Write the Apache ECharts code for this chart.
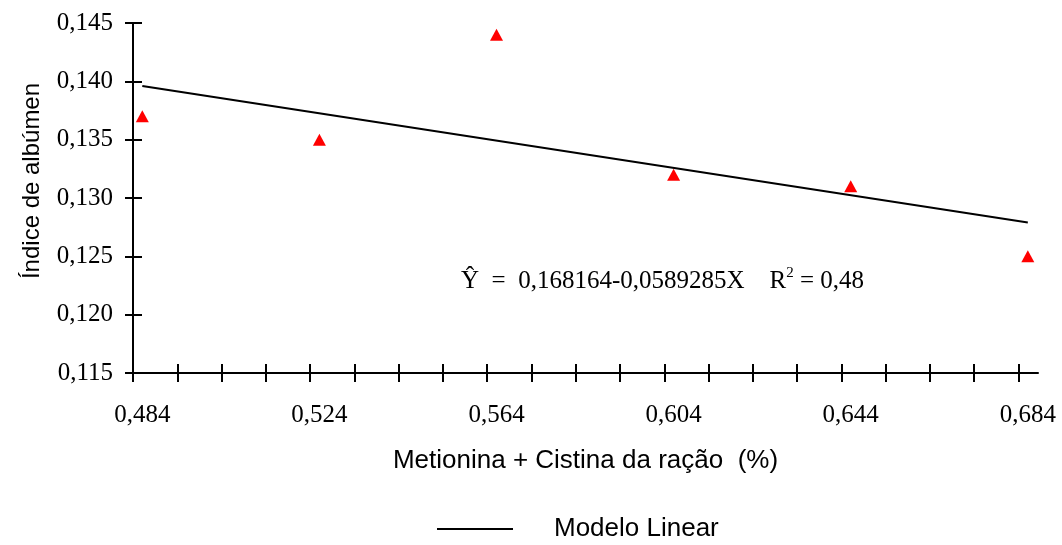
<!DOCTYPE html>
<html>
<head>
<meta charset="utf-8">
<script src="https://cdn.jsdelivr.net/npm/echarts@6/dist/echarts.min.js"></script>
<style>
  html, body { margin: 0; padding: 0; background: #fff; }
  #chart { width: 1062px; height: 545px; }
</style>
</head>
<body>
<div id="chart"></div>
<script>
// Observed values: methionine + cystine level vs. albumen index
const xLevels = [0.484, 0.524, 0.564, 0.604, 0.644, 0.684];
const albumenIndex = [0.137, 0.135, 0.144, 0.132, 0.131, 0.125];

// Fitted linear model, endpoints over the tested range
const modelX = [0.484, 0.684];
const modelY = [0.1396, 0.1279];

// Axis ranges and tick labels
const xRange = [0.4819, 0.6863];
const xTickStep = 0.01;
const xTickCount = 21;
const xLabelValues = [0.484, 0.524, 0.564, 0.604, 0.644, 0.684];
const yRange = [0.115, 0.145];
const yStep = 0.005;

const equationText = 'Ŷ  =  0,168164-0,0589285X';
const r2Text = '0,48';

const SERIF = '"Liberation Serif", "Times New Roman", serif';
const SANS = '"Liberation Sans", Arial, sans-serif';

const xTicks = [];
for (let k = 0; k < xTickCount; k++) xTicks.push(+(xRange[0] + k * xTickStep).toFixed(5));

const comma = (v) => v.toFixed(3).replace('.', ',');

const chart = echarts.init(document.getElementById('chart'));

const axisLine = { show: true, lineStyle: { color: '#000', width: 2 } };
const tickStyle = { color: '#000', width: 2 };

chart.setOption({
  backgroundColor: '#fff',
  animation: false,
  grid: { left: 133, right: 24, top: 23, bottom: 172, containLabel: false },
  xAxis: [
    {
      type: 'value',
      min: xRange[0],
      max: xRange[1],
      axisLine: axisLine,
      axisTick: { show: true, customValues: xTicks, length: 9, inside: false, lineStyle: tickStyle },
      axisLabel: {
        customValues: xLabelValues,
        formatter: comma,
        fontFamily: SERIF, fontSize: 25, color: '#000', margin: 30
      },
      splitLine: { show: false },
      name: 'Metionina + Cistina da ração  (%)',
      nameLocation: 'middle',
      nameGap: 75,
      nameTextStyle: { fontFamily: SANS, fontSize: 26, color: '#000' }
    },
    {
      type: 'value',
      position: 'bottom',
      min: xRange[0],
      max: xRange[1],
      axisLine: { show: false },
      axisTick: { show: true, customValues: xTicks, length: 9, inside: true, lineStyle: tickStyle },
      axisLabel: { show: false },
      splitLine: { show: false }
    }
  ],
  yAxis: [
    {
      type: 'value',
      min: yRange[0],
      max: yRange[1],
      interval: yStep,
      axisLine: axisLine,
      axisTick: { show: true, length: 8, inside: false, lineStyle: tickStyle },
      axisLabel: {
        formatter: comma,
        fontFamily: SERIF, fontSize: 25, color: '#000', margin: 20
      },
      splitLine: { show: false },
      name: 'Índice de albúmen',
      nameLocation: 'middle',
      nameGap: 89,
      nameRotate: 90,
      nameTextStyle: { fontFamily: SANS, fontSize: 24, color: '#000', padding: [0, 0, 0, 34] }
    },
    {
      type: 'value',
      position: 'left',
      min: yRange[0],
      max: yRange[1],
      interval: yStep,
      axisLine: { show: false },
      axisTick: { show: true, length: 9, inside: true, lineStyle: tickStyle },
      axisLabel: { show: false },
      splitLine: { show: false }
    }
  ],
  legend: {
    data: ['Modelo Linear'],
    top: 511,
    left: 432,
    itemWidth: 76,
    itemHeight: 14,
    icon: 'path://M0,6 L76,6 L76,8 L0,8 Z',
    itemStyle: { color: '#000' },
    textStyle: { fontFamily: SANS, fontSize: 26, color: '#000', padding: [12, 0, 0, 36] }
  },
  graphic: [
    {
      type: 'text',
      left: 461,
      top: 262,
      style: {
        text: '{eq|' + equationText + '}{sp|    }{eq|R}{sup|2}{eq| = ' + r2Text + '}',
        rich: {
          eq: { fontFamily: SERIF, fontSize: 25, fill: '#000', verticalAlign: 'bottom', lineHeight: 32 },
          sp: { fontFamily: SERIF, fontSize: 25, verticalAlign: 'bottom', lineHeight: 32 },
          sup: { fontFamily: SERIF, fontSize: 15, fill: '#000', verticalAlign: 'top', lineHeight: 32, padding: [4, 0, 0, 0] }
        }
      }
    }
  ],
  series: [
    {
      name: 'Modelo Linear',
      type: 'line',
      data: modelX.map((x, i) => [x, modelY[i]]),
      symbol: 'none',
      lineStyle: { color: '#000', width: 2 },
      itemStyle: { color: '#000' },
      z: 3
    },
    {
      name: 'Observado',
      type: 'scatter',
      data: xLevels.map((x, i) => [x, albumenIndex[i]]),
      symbol: 'triangle',
      symbolSize: [13, 12],
      itemStyle: { color: '#ff0000', opacity: 1 },
      z: 4
    }
  ]
});
</script>
</body>
</html>
